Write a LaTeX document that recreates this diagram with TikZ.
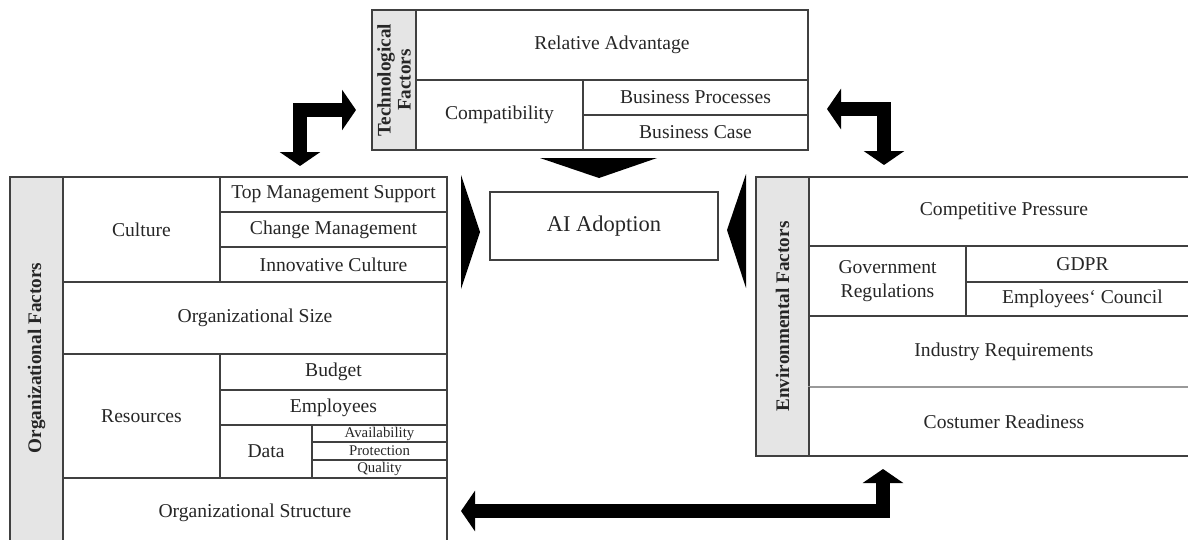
\documentclass[tikz,border=0pt]{standalone}
\usepackage{fontspec}
\setmainfont{Liberation Serif}
\usetikzlibrary{arrows.meta}

\begin{document}
\begin{tikzpicture}[
    x=1pt, y=-1pt,
    wh/.style 2 args={minimum width=#1pt, minimum height=#2pt},
    cell/.style={
        draw=black!75, line width=1.2pt, anchor=north west,
        inner sep=0pt, outer sep=0pt, align=center,
        font=\fontsize{19.6}{24}\selectfont, text=black!85
    },
    small/.style={cell, font=\fontsize{14.8}{16}\selectfont},
    side/.style={cell, fill=black!10},
    sidetext/.style={
        rotate=90, align=center, text=black!85,
        font=\fontsize{19.2}{20}\selectfont\bfseries
    },
    wedge/.style={fill=black},
    bigarrow/.style={
        line width=14pt, line join=miter,
        {Triangle[width=40pt, length=14pt]}-{Triangle[width=40pt, length=14pt]}
    }
]
\clip (0,0) rectangle (1188,539);

% technological factors
\node[side, wh={44}{140}] (tgray) at (372,10) {};
\node[sidetext] (tlabel) at (tgray.center) {Technological\\Factors};
\node[cell, wh={392}{70}] (radv) at (416,10) {Relative Advantage};
\node[cell, wh={167}{70}] (compat) at (416,80) {Compatibility};
\node[cell, wh={225}{35}] (bproc) at (583,80) {Business Processes};
\node[cell, wh={225}{35}] (bcase) at (583,115) {Business Case};

% organizational factors
\node[side, wh={53}{380}] (ogray) at (10,177) {};
\node[sidetext] (olabel) at (10+26.5,358) {Organizational Factors};
\node[cell, wh={157}{105}] (culture) at (63,177) {Culture};
\node[cell, wh={227}{35}] (topmgmt) at (220,177) {Top Management Support};
\node[cell, wh={227}{35}] (change) at (220,212) {Change Management};
\node[cell, wh={227}{35}] (innov) at (220,247) {Innovative Culture};
\node[cell, wh={384}{72}] (orgsize) at (63,282) {Organizational Size};
\node[cell, wh={157}{124}] (resources) at (63,354) {Resources};
\node[cell, wh={227}{36}] (budget) at (220,354) {Budget};
\node[cell, wh={227}{35}] (employees) at (220,390) {Employees};
\node[cell, wh={92}{53}] (data) at (220,425) {Data};
\node[small, wh={135}{17}] (avail) at (312,425) {Availability};
\node[small, wh={135}{18}] (protect) at (312,442) {Protection};
\node[small, wh={135}{18}] (quality) at (312,460) {Quality};
\node[cell, wh={384}{70}] (orgstruct) at (63,478) {Organizational Structure};

% adoption
\node[cell, wh={228}{68}, font=\fontsize{22.5}{26}\selectfont] (ai) at (490,192) {AI Adoption};

% environmental factors
\node[side, wh={53}{279}] (egray) at (756,177) {};
\node[sidetext] (elabel) at (egray.center) {Environmental Factors};
\node[cell, wh={390}{69}] (comp) at (809,177) {Competitive Pressure};
\node[cell, wh={157}{70}] (gov) at (809,246) {Government\\Regulations};
\node[cell, wh={233}{36}] (gdpr) at (966,246) {GDPR};
\node[cell, wh={233}{34}] (council) at (966,282) {Employees‘ Council};
\node[cell, wh={390}{71}] (industry) at (809,316) {Industry Requirements};
\node[cell, wh={390}{69}, draw=black!40] (customer) at (809,387) {Costumer Readiness};
\draw[black!75, line width=1.2pt] (customer.north east) |- (customer.south west) -- (customer.north west);

% wedges pointing at the adoption box
\fill[wedge] (540,158) -- (657,158) -- (599,178) -- cycle;
\fill[wedge] (461,175) -- (480,232) -- (461,289) -- cycle;
\fill[wedge] (746,174) -- (727,230) -- (746,288) -- cycle;

% two-way arrows between the factor groups
\coordinate (tl-down) at (300,166);
\coordinate (tl-right) at (356,110);
\coordinate (tr-left) at (827,109);
\coordinate (tr-down) at (884,165);
\coordinate (b-left) at (461,511);
\coordinate (b-up) at (883,469);

\draw[bigarrow] (tl-down) |- (tl-right);
\draw[bigarrow] (tr-left) -| (tr-down);
\draw[bigarrow] (b-left) -| (b-up);

\end{tikzpicture}
\end{document}
